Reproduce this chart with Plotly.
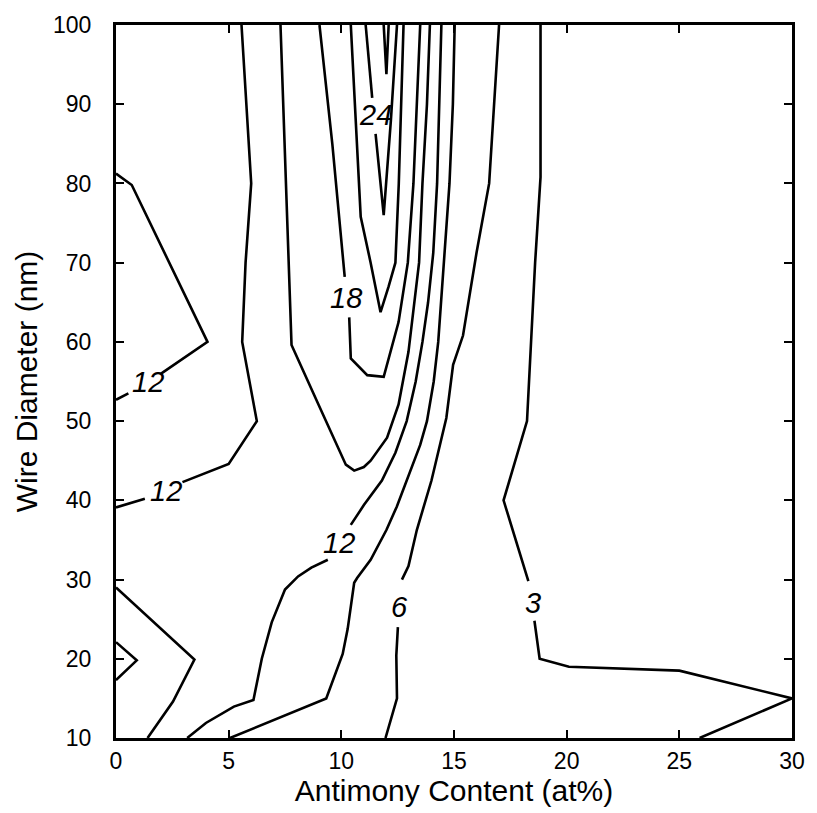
import plotly.graph_objects as go

# ---- contour lines (x = Sb at%, y = wire diameter nm); None = gap at label
c3_x = [18.84, 18.84, 18.6, 18.24, 17.2, 18.3, None, 18.57, 18.8, 20.1, 25.0, 30.0, 25.9]
c3_y = [100, 80.8, 70, 50, 40, 29.8, None, 24.8, 20, 19.0, 18.5, 15, 10]

c6_x = [17.0, 16.56, 16.0, 15.4, 14.96, 14.66, 14.0, 13.35, 12.98, 12.69, None, 12.51, 12.44, 12.47, 12.1, 11.96]
c6_y = [100, 80, 71.25, 60.8, 57.1, 50.4, 42.5, 36.25, 31.7, 30, None, 24, 20.4, 15, 11.25, 10]

c9_x = [15.03, 14.95, 14.8, 14.59, 14.45, 14.3, 14.1, 13.8, 13.5, 12.9, 12.46, 12.0, 11.3, 10.7, 10.57, 10.28, 10.06, 9.33, 5.06]
c9_y = [100, 90, 80, 71.25, 65, 60, 55, 50, 47, 42.5, 39.2, 36.25, 32.5, 30.2, 29.6, 23.75, 20.6, 15, 10]

c12_x = [14.44, 14.35, 14.25, 14.08, 13.85, 13.6, 13.3, 12.9, 12.4, 11.8, 11.0, 10.42, None,
         9.4, 8.67, 8.08, 7.5, 6.91, 6.47, 6.1, 5.23, 3.99, 3.16, None,
         5.57, 6.0, 5.75, 5.6, 6.25, 5.0, 2.95, None, 1.28, 0.0, None,
         0.0, 0.7, 4.06, 2.0, None, 0.55, 0.0]
c12_y = [100, 90, 80, 71.25, 65, 60, 55, 50, 46, 42.5, 39.4, 36.9, None,
         32.5, 31.5, 30.4, 28.75, 24.6, 20, 14.8, 13.96, 11.9, 10, None,
         100, 80, 70, 60, 50, 44.6, 42.3, None, 40.2, 39.1, None,
         81.25, 79.8, 60, 56, None, 53.5, 52.7]

c15_x = [7.3, 7.65, 7.79, 9.0, 9.84, 10.2, 10.57, 11.0, 11.3, 12.03, 12.54, 12.98, 13.45, 13.6, 13.8, 13.93, None,
         0.0, 3.48, 2.53, 1.4]
c15_y = [100, 70, 59.6, 52, 46.7, 44.5, 43.75, 44.2, 45, 47.9, 52.1, 58.75, 70, 80, 90, 100, None,
         29.0, 19.9, 14.6, 10]

c18_x = [9.03, 9.6, 10.15, None, 10.35, 10.42, 11.15, 11.88, 12.54, 12.95, 13.2, 13.35, 13.5, None,
         0.0, 0.92, 0.0]
c18_y = [100, 85, 68.2, None, 63.1, 57.9, 55.8, 55.6, 62.5, 70, 80, 90, 100, None,
         22.1, 19.8, 17.3]

c21_x = [10.42, 10.86, 11.3, 11.74, 12.1, 12.4, 12.55, 12.65, 12.76]
c21_y = [100, 75.8, 70, 63.75, 67, 70, 80, 90, 100]

c24_x = [11.08, 11.37, None, 11.52, 11.88, 12.2, 12.47]
c24_y = [100, 90.8, None, 86.25, 76.0, 88, 100]

c27_x = [11.88, 12.0, 12.1]
c27_y = [100, 93.8, 100]

label_text = ["24", "18", "12", "12", "12", "6", "3"]
label_x = [11.5, 10.2, 1.4, 2.2, 9.9, 12.6, 18.5]
label_y = [88.6, 65.6, 55.0, 41.2, 34.6, 26.5, 27.1]

x_ticks = [0, 5, 10, 15, 20, 25, 30]
y_ticks = [10, 20, 30, 40, 50, 60, 70, 80, 90, 100]

FONT = "Liberation Sans, Arial, Helvetica, sans-serif"

fig = go.Figure()
for xs, ys in [(c3_x, c3_y), (c6_x, c6_y), (c9_x, c9_y), (c12_x, c12_y), (c15_x, c15_y),
               (c18_x, c18_y), (c21_x, c21_y), (c24_x, c24_y), (c27_x, c27_y)]:
    fig.add_trace(go.Scatter(x=xs, y=ys, mode="lines", connectgaps=False,
                             line=dict(color="black", width=2.6), showlegend=False,
                             hoverinfo="skip"))

for t, lx, ly in zip(label_text, label_x, label_y):
    fig.add_annotation(x=lx, y=ly, xref="x", yref="y", text="<i>" + t + "</i>",
                       showarrow=False, font=dict(family=FONT, size=29, color="black"))

axis_common = dict(showline=True, linecolor="black", linewidth=3, mirror="ticks",
                   ticks="inside", ticklen=8, tickwidth=2, tickcolor="black",
                   showgrid=False, zeroline=False,
                   tickfont=dict(family=FONT, size=23, color="black"))

fig.update_xaxes(range=[0, 30], tickvals=x_ticks, ticktext=[str(v) for v in x_ticks],
                 title=dict(text="Antimony Content (at%)", font=dict(family=FONT, size=30, color="black"),
                            standoff=6),
                 **axis_common)
fig.update_yaxes(range=[10, 100], tickvals=y_ticks, ticktext=[str(v) for v in y_ticks],
                 ticklabelstandoff=17,
                 title=dict(text="Wire Diameter (nm)", font=dict(family=FONT, size=30, color="black"),
                            standoff=7),
                 **axis_common)

fig.update_layout(width=817, height=813, margin=dict(l=116, r=18, t=20, b=72),
                  paper_bgcolor="white", plot_bgcolor="white", showlegend=False)

fig.write_html("out.html")
